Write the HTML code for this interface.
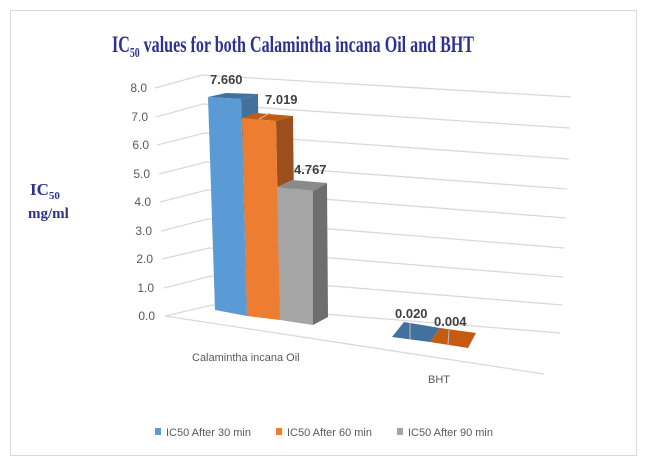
<!DOCTYPE html>
<html><head><style>body{margin:0;background:#fff}svg{display:block}</style></head><body>
<svg width="646" height="466" viewBox="0 0 646 466" xmlns="http://www.w3.org/2000/svg">
<rect x="10.5" y="10.5" width="626" height="445" fill="#fff" stroke="#d9d9d9"/>
<text x="112" y="52" font-family="Liberation Serif,serif" font-weight="bold" font-size="23" fill="#2e3192" textLength="362" lengthAdjust="spacingAndGlyphs">IC<tspan font-size="14" dy="5">50</tspan><tspan dy="-5"> values for both Calamintha incana Oil and BHT</tspan></text>
<text x="30" y="195" font-family="Liberation Serif,serif" font-weight="bold" font-size="17" fill="#2e3192">IC<tspan font-size="11" dy="4">50</tspan></text>
<text x="28" y="218" font-family="Liberation Serif,serif" font-weight="bold" font-size="15" fill="#2e3192">mg/ml</text>
<g stroke="#d9d9d9" stroke-width="1.3" fill="none">
<polyline points="155,88 202,75 571,97"/>
<polyline points="156,117 203,104 570,128"/>
<polyline points="157,145 205,133 569,159"/>
<polyline points="159,174 206,162 567,189"/>
<polyline points="160,202 207,190 566,218"/>
<polyline points="161,231 208,219 564,248"/>
<polyline points="162,259 209,248 563,277"/>
<polyline points="164,288 211,276 562,305"/>
<polyline points="165,316 212,305 560,333"/>
<line x1="165" y1="316" x2="544" y2="374"/>
</g>
<g font-family="Liberation Sans,sans-serif" font-size="12" fill="#595959" text-anchor="end">
<text x="147" y="92">8.0</text><text x="148" y="121">7.0</text><text x="149" y="149">6.0</text><text x="150" y="178">5.0</text><text x="151" y="206">4.0</text><text x="152" y="235">3.0</text><text x="153" y="263">2.0</text><text x="154" y="292">1.0</text><text x="155" y="320">0.0</text>
</g>
<polygon points="241,99 258,94 260,300 247,312" fill="#41719c"/>
<polygon points="208,97 226,93 258,94 241,99" fill="#41719c"/>
<polygon points="208,97 241,99 247,316 215,310" fill="#5b9bd5"/>
<polygon points="276,121 293,116 295,300 280,320" fill="#9c4f1c"/>
<polygon points="242,118 256,113 293,116 276,121" fill="#c55a11"/>
<polygon points="242,118 276,121 280,320 247,316" fill="#ed7d31"/>
<polygon points="313,191 327,183 328,317 313,325" fill="#6e6e6e"/>
<polygon points="277,187 292,180 327,183 313,191" fill="#8a8a8a"/>
<polygon points="277,187 313,191 313,325 280,320" fill="#a5a5a5"/>
<polygon points="392,337 404,322 440,328 430,342" fill="#41719c"/>
<polygon points="430,342 440,328 476,333 468,348" fill="#c55a11"/>
<line x1="410" y1="323" x2="410" y2="339" stroke="#bbb"/>
<line x1="449" y1="330" x2="448" y2="345" stroke="#bbb"/>
<line x1="259" y1="119" x2="270" y2="113" stroke="#bbb"/>
<g font-family="Liberation Sans,sans-serif" font-size="13" font-weight="bold" fill="#404040">
<text x="210" y="84">7.660</text><text x="265" y="104">7.019</text><text x="294" y="174">4.767</text>
<text x="395" y="318">0.020</text><text x="434" y="326">0.004</text>
</g>
<g font-family="Liberation Sans,sans-serif" font-size="11" fill="#595959">
<text x="192" y="361">Calamintha incana Oil</text>
<text x="428" y="383">BHT</text>
<rect x="155" y="428" width="6" height="7" fill="#5b9bd5"/><text x="166" y="436">IC50 After 30 min</text>
<rect x="276" y="428" width="6" height="7" fill="#ed7d31"/><text x="287" y="436">IC50 After 60 min</text>
<rect x="397" y="428" width="6" height="7" fill="#a5a5a5"/><text x="408" y="436">IC50 After 90 min</text>
</g>
</svg>
</body></html>
